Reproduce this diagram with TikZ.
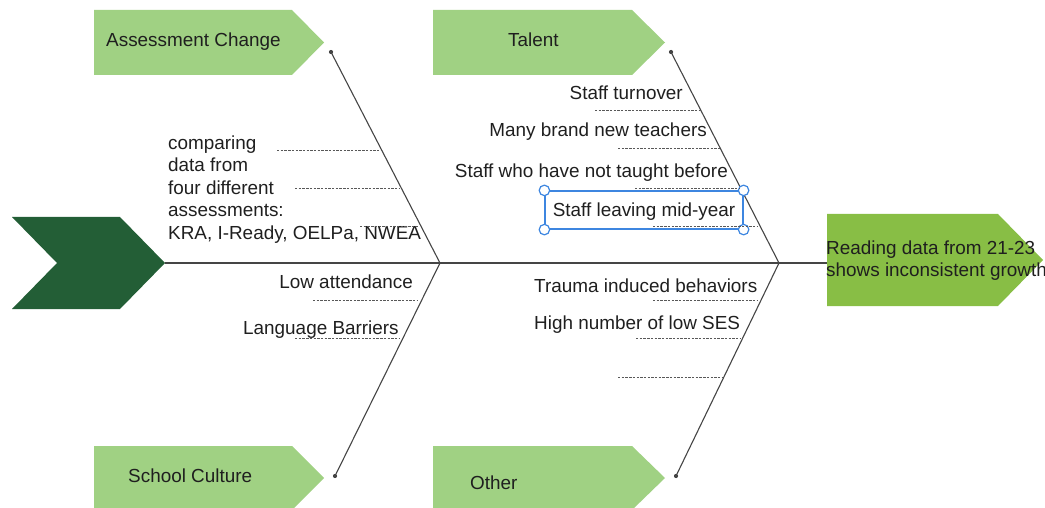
\documentclass[tikz,border=0pt]{standalone}
\usepackage{fontspec}
\setmainfont{Liberation Sans}
\definecolor{catgreen}{HTML}{A0D183}
\definecolor{headgreen}{HTML}{88BE45}
\definecolor{darkgreen}{HTML}{235E36}
\definecolor{selblue}{HTML}{3D86E0}
\definecolor{bonegray}{HTML}{454545}
\begin{document}
\begin{tikzpicture}[x=1pt,y=-1pt,
  txt/.style={inner sep=0pt,font=\fontsize{18.9}{22}\selectfont,text=black!88},
  bone/.style={draw=bonegray,line width=1.1pt},
  dash line/.style={draw=bonegray!90,line width=0.75pt,dash pattern=on 2.4pt off 1.3pt},
  enddot/.style={circle,fill=bonegray,inner sep=0pt,minimum size=4.2pt},
  handle/.style={circle,draw=selblue,fill=white,line width=1.2pt,inner sep=0pt,minimum size=10.5pt}]
\useasboundingbox (0,0) rectangle (1045,508);
\clip (0,0) rectangle (1045,508);
% category arrows
\fill[catgreen] (94,10) -- (292,10) -- (324,42.5) -- (292,75) -- (94,75) -- cycle;
\fill[catgreen] (433,10) -- (632,10) -- (665,42.5) -- (632,75) -- (433,75) -- cycle;
\fill[catgreen] (94,446) -- (292,446) -- (324,478) -- (292,510) -- (94,510) -- cycle;
\fill[catgreen] (433,446) -- (632,446) -- (665,478) -- (632,510) -- (433,510) -- cycle;
% tail chevron
\fill[darkgreen] (12,217) -- (120,217) -- (165,263) -- (120,309) -- (12,309) -- (57,263) -- cycle;
% head
\fill[headgreen] (827,214) -- (998,214) -- (1043,260) -- (998,306) -- (827,306) -- cycle;
% coordinates
\coordinate (tail) at (165,263);
\coordinate (head) at (827,263);
\coordinate (j1) at (440,263);
\coordinate (j2) at (779,263);
\node[enddot] (d1) at (331,52) {};
\node[enddot] (d2) at (671,52) {};
\node[enddot] (d3) at (335,476) {};
\node[enddot] (d4) at (676,476) {};
% spine and bones
\draw[bone] (tail) -- (head);
\draw[bone] (d1.center) -- (j1);
\draw[bone] (d3.center) -- (j1);
\draw[bone] (d2.center) -- (j2);
\draw[bone] (d4.center) -- (j2);
% category titles
\node[txt,anchor=base west] (tA) at (106,46.5) {Assessment Change};
\node[txt,anchor=base west] (tT) at (508,46.5) {Talent};
\node[txt,anchor=base west] (tS) at (128,482.5) {School Culture};
\node[txt,anchor=base west] (tO) at (470,489.5) {Other};
% head text
\node[txt,anchor=base west] (h1) at (826,254.5) {Reading data from 21-23};
\node[txt,anchor=base west] (h2) at (826,276) {shows inconsistent growth};
% assessment change causes
\node[txt,anchor=base west] (a1) at (168,149.5) {comparing};
\node[txt,anchor=base west] (a2) at (168,172) {data from};
\node[txt,anchor=base west] (a3) at (168,194.5) {four different};
\node[txt,anchor=base west] (a4) at (168,217) {assessments:};
\node[txt,anchor=base west] (a5) at (168,239.5) {KRA, I-Ready, OELPa, NWEA};
\coordinate (ad1) at (277,150); \coordinate (ad1e) at (381,150);
\coordinate (ad2) at (295,188); \coordinate (ad2e) at (400,188);
\coordinate (ad3) at (360,226); \coordinate (ad3e) at (418,226);
\draw[dash line] (ad1) -- (ad1e);
\draw[dash line] (ad2) -- (ad2e);
\draw[dash line] (ad3) -- (ad3e);
% talent causes
\node[txt,anchor=base east] (t1) at (683,100) {Staff turnover};
\node[txt,anchor=base east] (t2) at (707,136.5) {Many brand new teachers};
\node[txt,anchor=base east] (t3) at (728,177.5) {Staff who have not taught before};
\node[draw=selblue,line width=1.2pt,minimum width=198pt,minimum height=38pt,inner sep=0pt] (t4box) at (644,210) {};
\node[txt,anchor=base] (t4) at (644,216.5) {Staff leaving mid-year};
\node[handle] (hA) at (t4box.north west) {};
\node[handle] (hB) at (t4box.north east) {};
\node[handle] (hC) at (t4box.south west) {};
\node[handle] (hD) at (t4box.south east) {};
\coordinate (td1) at (595,110); \coordinate (td1e) at (701,110);
\coordinate (td2) at (618,148); \coordinate (td2e) at (720,148);
\coordinate (td3) at (635,188); \coordinate (td3e) at (740,188);
\coordinate (td4) at (653,226); \coordinate (td4e) at (757,226);
\draw[dash line] (td1) -- (td1e);
\draw[dash line] (td2) -- (td2e);
\draw[dash line] (td3) -- (td3e);
\draw[dash line] (td4) -- (td4e);
% school culture causes
\node[txt,anchor=base east] (s1) at (413,288.5) {Low attendance};
\node[txt,anchor=base west] (s2) at (243,334.5) {Language Barriers};
\coordinate (sd1) at (313,300); \coordinate (sd1e) at (418,300);
\coordinate (sd2) at (295,338); \coordinate (sd2e) at (400,338);
\draw[dash line] (sd1) -- (sd1e);
\draw[dash line] (sd2) -- (sd2e);
% other causes
\node[txt,anchor=base west] (o1) at (534,292.5) {Trauma induced behaviors};
\node[txt,anchor=base west] (o2) at (534,329.5) {High number of low SES};
\coordinate (od1) at (653,300); \coordinate (od1e) at (758,300);
\coordinate (od2) at (636,338); \coordinate (od2e) at (740,338);
\coordinate (od3) at (618,377); \coordinate (od3e) at (723,377);
\draw[dash line] (od1) -- (od1e);
\draw[dash line] (od2) -- (od2e);
\draw[dash line] (od3) -- (od3e);
\end{tikzpicture}
\end{document}
